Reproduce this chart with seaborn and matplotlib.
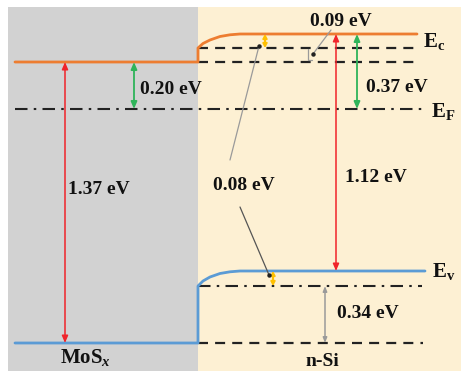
import matplotlib
matplotlib.use("Agg")
import matplotlib.pyplot as plt
from matplotlib.patches import Rectangle
import seaborn as sns
import pandas as pd

sns.set_theme(style="white")
plt.rcParams["font.family"] = ["Liberation Serif", "DejaVu Serif"]
plt.rcParams["mathtext.fontset"] = "custom"
plt.rcParams["mathtext.rm"] = "Liberation Serif:bold"
plt.rcParams["mathtext.it"] = "Liberation Serif:italic:bold"
plt.rcParams["mathtext.bf"] = "Liberation Serif:bold"

# ---- schematic band levels (vertical position in diagram units, top = 0) ----
mos_cb = 62          # MoSx conduction band
mos_vb = 343         # MoSx valence band
ef = 109             # Fermi level
si_ec = 34           # n-Si conduction band (Ec)
si_ev = 271          # n-Si valence band (Ev)
ec_dash1 = 48        # dashed reference lines below Ec
ec_dash2 = 62
ev_dashdot = 286     # dash-dot below Ev
vb_dash = 343        # dashed line at MoSx VB level

# band edges
cb_x = [15, 198, 198, 203, 210, 220, 230, 240, 417]
cb_y = [mos_cb, mos_cb, 48, 43.5, 40, 36.5, 34.8, si_ec, si_ec]
vb_x = [15, 198, 198, 203, 210, 220, 230, 240, 425]
vb_y = [mos_vb, mos_vb, 286, 281, 277, 273.5, 271.8, si_ev, si_ev]

# annotation values
gap_labels = ["1.37 eV", "0.20 eV", "1.12 eV", "0.37 eV", "0.09 eV", "0.08 eV", "0.34 eV"]
material_labels = ["MoS$_{\\mathit{x}}$", "n-Si"]
level_labels = ["E$_{\\mathrm{c}}$", "E$_{\\mathrm{F}}$", "E$_{\\mathrm{v}}$"]

W, H = 461, 371
fig = plt.figure(figsize=(W / 100, H / 100), dpi=100)
ax = fig.add_axes([0, 0, 1, 1])

# backgrounds
ax.add_patch(Rectangle((8, 7), 190, H - 7, color="#d2d2d2", zorder=0, lw=0))
ax.add_patch(Rectangle((198, 7), W - 198, H - 7, color="#fdf0d3", zorder=0, lw=0))

orange = "#ed7d31"
blue = "#5b9bd5"
red = "#f0242a"
green = "#2fb45a"
yellow = "#ffc000"
grey = "#9a9a9a"

cb_df = pd.DataFrame({"x": cb_x, "y": cb_y})
vb_df = pd.DataFrame({"x": vb_x, "y": vb_y})
sns.lineplot(data=cb_df, x="x", y="y", sort=False, estimator=None, color=orange, lw=2, ax=ax, zorder=3)
sns.lineplot(data=vb_df, x="x", y="y", sort=False, estimator=None, color=blue, lw=2, ax=ax, zorder=3)
ax.set_xlim(0, W)
ax.set_ylim(H, 0)
ax.axis("off")

dash = (0, (4.5, 3.2))
dashdot = (0, (6, 3, 1.2, 3))
ax.plot([198, 418], [ec_dash1, ec_dash1], color="#222222", lw=1.6, ls=dash, zorder=2)
ax.plot([198, 418], [ec_dash2, ec_dash2], color="#222222", lw=1.6, ls=dash, zorder=2)
ax.plot([15, 423], [ef, ef], color="#222222", lw=1.5, ls=dashdot, zorder=2)
ax.plot([198, 422], [ev_dashdot, ev_dashdot], color="#222222", lw=1.5, ls=dashdot, zorder=2)
ax.plot([198, 423], [vb_dash, vb_dash], color="#222222", lw=1.6, ls=dash, zorder=2)


def darrow(x, y1, y2, color, lw=1.1, hl=0.35, hw=0.15):
    ax.annotate("", xy=(x, y2), xytext=(x, y1),
                arrowprops=dict(arrowstyle=f"<|-|>,head_length={hl},head_width={hw}",
                                color=color, lw=lw, shrinkA=0, shrinkB=0), zorder=4)


darrow(65, mos_cb, mos_vb, red)
darrow(134, mos_cb, ef, green, 1.3)
darrow(336, si_ec, si_ev, red)
darrow(357, si_ec, ef, green, 1.3)
darrow(265, si_ec, ec_dash1, yellow, 1.5, 0.18, 0.1)
darrow(273, si_ev, ev_dashdot, yellow, 1.5, 0.18, 0.1)
darrow(325, ev_dashdot, vb_dash, grey, 1.1, 0.25, 0.1)

# pointer lines
ax.plot([331, 313], [30, 54], color=grey, lw=0.9, zorder=4)
ax.plot([313], [54], marker="o", ms=2.2, color="#222222", zorder=5)
ax.plot([308, 308, 312], [49, 60, 60], color=grey, lw=0.9, zorder=4)
ax.plot([230, 259], [160, 46], color=grey, lw=0.9, zorder=4)
ax.plot([258.5], [45.5], marker="o", ms=2.2, color="#222222", zorder=5)
ax.plot([240, 269], [207, 275], color="#555555", lw=0.9, zorder=4)
ax.plot([269], [275], marker="o", ms=2.2, color="#222222", zorder=5)

fs = 14
kw = dict(fontsize=fs, fontweight="bold", color="#111111", va="center", ha="left", zorder=6)
ax.text(68, 189, gap_labels[0], **kw)
ax.text(140, 90, gap_labels[1], **kw)
ax.text(345, 177, gap_labels[2], **kw)
ax.text(366, 88, gap_labels[3], **kw)
ax.text(310, 22, gap_labels[4], **kw)
ax.text(213, 186, gap_labels[5], **kw)
ax.text(337, 313, gap_labels[6], **kw)
ax.text(60, 358, material_labels[0], **{**kw, "fontsize": 15})
ax.text(305, 362, material_labels[1], **kw)
ax.text(423, 42, level_labels[0], **{**kw, "fontsize": 15})
ax.text(431, 112, level_labels[1], **{**kw, "fontsize": 15})
ax.text(432, 272, level_labels[2], **{**kw, "fontsize": 15})

fig.savefig("out.png", dpi=100)
